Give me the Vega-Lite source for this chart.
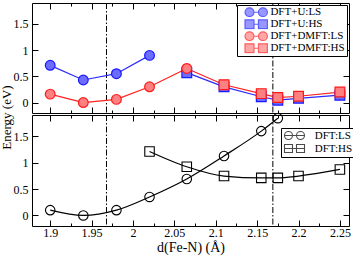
{
  "$schema": "https://vega.github.io/schema/vega-lite/v6.json",
  "padding": {"left": 0, "top": 2, "right": 0, "bottom": 0},
  "background": "white",
  "config": {
    "font": "Liberation Serif",
    "view": {"stroke": "black", "strokeWidth": 1},
    "axis": {"grid": false, "domain": false, "tickColor": "black", "labelColor": "black", "titleColor": "black", "labelFont": "Liberation Serif", "titleFont": "Liberation Serif", "labelFontSize": 12, "titleFontSize": 13, "titleFontWeight": "normal", "labelFlush": false, "labelOverlap": false, "tickWidth": 1},
    "legend": {"labelFont": "Liberation Serif", "labelFontSize": 11, "labelColor": "black"}
  },
  "datasets": {
    "top": [
      {"s": "DFT+U:LS", "d": 1.9, "E": 0.71},
      {"s": "DFT+U:LS", "d": 1.94, "E": 0.43},
      {"s": "DFT+U:LS", "d": 1.98, "E": 0.55},
      {"s": "DFT+U:LS", "d": 2.02, "E": 0.9},
      {"s": "DFT+U:HS", "d": 2.065, "E": 0.57},
      {"s": "DFT+U:HS", "d": 2.11, "E": 0.3},
      {"s": "DFT+U:HS", "d": 2.155, "E": 0.11},
      {"s": "DFT+U:HS", "d": 2.175, "E": 0.045},
      {"s": "DFT+U:HS", "d": 2.2, "E": 0.08},
      {"s": "DFT+U:HS", "d": 2.25, "E": 0.14},
      {"s": "DFT+DMFT:LS", "d": 1.9, "E": 0.16},
      {"s": "DFT+DMFT:LS", "d": 1.94, "E": 0.0},
      {"s": "DFT+DMFT:LS", "d": 1.98, "E": 0.06},
      {"s": "DFT+DMFT:LS", "d": 2.02, "E": 0.3},
      {"s": "DFT+DMFT:LS", "d": 2.065, "E": 0.65},
      {"s": "DFT+DMFT:HS", "d": 2.065, "E": 0.65},
      {"s": "DFT+DMFT:HS", "d": 2.11, "E": 0.34},
      {"s": "DFT+DMFT:HS", "d": 2.155, "E": 0.17},
      {"s": "DFT+DMFT:HS", "d": 2.175, "E": 0.095},
      {"s": "DFT+DMFT:HS", "d": 2.2, "E": 0.12},
      {"s": "DFT+DMFT:HS", "d": 2.25, "E": 0.2}
    ],
    "bot": [
      {"t": "DFT:LS", "d": 1.9, "E": 0.1},
      {"t": "DFT:LS", "d": 1.94, "E": 0.0},
      {"t": "DFT:LS", "d": 1.98, "E": 0.1},
      {"t": "DFT:LS", "d": 2.02, "E": 0.35},
      {"t": "DFT:LS", "d": 2.065, "E": 0.69},
      {"t": "DFT:LS", "d": 2.11, "E": 1.125},
      {"t": "DFT:LS", "d": 2.155, "E": 1.595},
      {"t": "DFT:LS", "d": 2.175, "E": 1.84},
      {"t": "DFT:HS", "d": 2.02, "E": 1.21},
      {"t": "DFT:HS", "d": 2.065, "E": 0.92},
      {"t": "DFT:HS", "d": 2.11, "E": 0.745},
      {"t": "DFT:HS", "d": 2.155, "E": 0.71},
      {"t": "DFT:HS", "d": 2.175, "E": 0.71},
      {"t": "DFT:HS", "d": 2.2, "E": 0.745},
      {"t": "DFT:HS", "d": 2.25, "E": 0.87}
    ],
    "vlines": [{"v": 1.968}, {"v": 2.169}]
  },
  "bounds": "flush",
  "spacing": 2,
  "resolve": {"scale": {"x": "independent", "y": "independent", "shape": "independent", "fill": "independent", "stroke": "independent", "color": "independent"}},
  "vconcat": [
    {
      "width": 317,
      "height": 110,
      "layer": [
        {
          "data": {"name": "vlines"},
          "mark": {"type": "rule", "color": "black", "strokeWidth": 1, "strokeDash": [6, 2, 1.5, 2]},
          "encoding": {
            "x": {"field": "v", "type": "quantitative", "scale": {"domain": [1.878, 2.261], "nice": false, "zero": false}, "axis": null}
          }
        },
        {
          "data": {"name": "top"},
          "mark": {"type": "line", "strokeWidth": 1.2},
          "encoding": {
            "x": {"field": "d", "type": "quantitative", "scale": {"domain": [1.878, 2.261], "nice": false, "zero": false},
              "axis": {"orient": "bottom", "values": [1.9, 1.925, 1.95, 1.975, 2, 2.025, 2.05, 2.075, 2.1, 2.125, 2.15, 2.175, 2.2, 2.225, 2.25], "labels": false, "title": null,
                "tickSize": {"condition": {"test": "abs(datum.value*20 - round(datum.value*20)) < 0.01", "value": -6}, "value": -3}}},
            "y": {"field": "E", "type": "quantitative", "scale": {"domain": [-0.2, 1.9], "nice": false, "zero": false},
              "axis": {"orient": "left", "values": [0, 0.5, 1, 1.5], "format": "~g", "tickSize": -6, "labelPadding": 10, "title": "Energy (eV)", "titleX": -21.5, "titleY": 114, "titleAngle": -90, "titleBaseline": "alphabetic", "titleAlign": "center"}},
            "color": {"field": "s", "type": "nominal", "scale": {"domain": ["DFT+U:LS", "DFT+U:HS", "DFT+DMFT:LS", "DFT+DMFT:HS"], "range": ["#2a2aff", "#2a2aff", "#ff2020", "#ff2020"]}, "legend": null}
          }
        },
        {
          "data": {"name": "top"},
          "transform": [{"filter": "!(datum.s == 'DFT+DMFT:HS' && datum.d < 2.08)"}],
          "mark": {"type": "point", "filled": true, "size": 95, "strokeWidth": 1.2, "opacity": 1},
          "encoding": {
            "x": {"field": "d", "type": "quantitative", "scale": {"domain": [1.878, 2.261], "nice": false, "zero": false},
              "axis": {"orient": "top", "values": [1.9, 1.925, 1.95, 1.975, 2, 2.025, 2.05, 2.075, 2.1, 2.125, 2.15, 2.175, 2.2, 2.225, 2.25], "labels": false, "title": null,
                "tickSize": {"condition": {"test": "abs(datum.value*20 - round(datum.value*20)) < 0.01", "value": -6}, "value": -3}}},
            "y": {"field": "E", "type": "quantitative", "scale": {"domain": [-0.2, 1.9], "nice": false, "zero": false},
              "axis": {"orient": "right", "values": [0, 0.5, 1, 1.5], "labels": false, "tickSize": -6, "title": null}},
            "fill": {"field": "s", "type": "nominal", "scale": {"domain": ["DFT+U:LS", "DFT+U:HS", "DFT+DMFT:LS", "DFT+DMFT:HS"], "range": ["#6c6cff", "#6c6cff", "#ff8080", "#ff8080"]}, "legend": null},
            "stroke": {"field": "s", "type": "nominal", "scale": {"domain": ["DFT+U:LS", "DFT+U:HS", "DFT+DMFT:LS", "DFT+DMFT:HS"], "range": ["#1a1aff", "#1a1aff", "#ff1a1a", "#ff1a1a"]}, "legend": null},
            "shape": {"field": "s", "type": "nominal", "scale": {"domain": ["DFT+U:LS", "DFT+U:HS", "DFT+DMFT:LS", "DFT+DMFT:HS"], "range": ["circle", "square", "circle", "square"]}, "legend": null}
          }
        },
        {
          "data": {"name": "top"},
          "transform": [{"filter": "false"}],
          "mark": {"type": "point", "filled": false, "size": 80, "strokeWidth": 1.2,
            "fill": {"expr": "indexof(datum.value, 'U:') >= 0 ? '#6c6cff' : '#ff8080'"},
            "color": {"expr": "indexof(datum.value, 'U:') >= 0 ? '#1a1aff' : '#ff1a1a'"}},
          "encoding": {
            "shape": {"field": "s", "type": "nominal",
              "scale": {"domain": ["DFT+U:LS", "DFT+U:HS", "DFT+DMFT:LS", "DFT+DMFT:HS"],
                "range": ["M-2.5,0A1,1,0,1,0,-0.5,0A1,1,0,1,0,-2.5,0ZM-0.5,0L0.5,0M0.5,0A1,1,0,1,0,2.5,0A1,1,0,1,0,0.5,0Z",
                          "M-2.5,-1H-0.5V1H-2.5ZM-0.5,0H0.5M0.5,-1H2.5V1H0.5Z",
                          "M-2.5 0A1 1 0 1 0 -0.5 0A1 1 0 1 0 -2.5 0ZM-0.5 0L0.5 0M0.5 0A1 1 0 1 0 2.5 0A1 1 0 1 0 0.5 0Z",
                          "M-2.5 -1H-0.5V1H-2.5ZM-0.5 0H0.5M0.5 -1H2.5V1H0.5Z"]},
              "legend": {"title": null, "orient": "none", "legendX": 205, "legendY": 2, "strokeColor": "black", "fillColor": "white", "padding": 2, "rowPadding": 0, "clipHeight": 10.5, "symbolOffset": 11.7, "labelOffset": 8.7, "labelFontSize": 11, "symbolSize": 80, "symbolStrokeWidth": 1.2,
                "encode": {"symbols": {"update": {
                  "fill": {"signal": "indexof(datum.value, 'U:') >= 0 ? '#6c6cff' : '#ff8080'"},
                  "stroke": {"signal": "indexof(datum.value, 'U:') >= 0 ? '#1a1aff' : '#ff1a1a'"},
                  "strokeWidth": {"value": 1.2}}}}}}
          }
        }
      ],
      "resolve": {"scale": {"shape": "independent"}, "axis": {"x": "independent", "y": "independent"}}
    },
    {
      "width": 317,
      "height": 111,
      "layer": [
        {
          "data": {"name": "vlines"},
          "mark": {"type": "rule", "color": "black", "strokeWidth": 1, "strokeDash": [6, 2, 1.5, 2]},
          "encoding": {
            "x": {"field": "v", "type": "quantitative", "scale": {"domain": [1.878, 2.261], "nice": false, "zero": false}, "axis": null}
          }
        },
        {
          "data": {"name": "bot"},
          "mark": {"type": "line", "interpolate": "monotone", "color": "black", "strokeWidth": 1.2},
          "encoding": {
            "x": {"field": "d", "type": "quantitative", "scale": {"domain": [1.878, 2.261], "nice": false, "zero": false},
              "axis": {"orient": "bottom", "values": [1.9, 1.925, 1.95, 1.975, 2, 2.025, 2.05, 2.075, 2.1, 2.125, 2.15, 2.175, 2.2, 2.225, 2.25],
                "labelExpr": "abs(datum.value*20 - round(datum.value*20)) < 0.01 ? format(datum.value, '~g') : ''",
                "labelPadding": 7, "title": "d(Fe-N) (Å)", "titleY": 25.5, "titleBaseline": "alphabetic", "titleFontSize": 14,
                "tickSize": {"condition": {"test": "abs(datum.value*20 - round(datum.value*20)) < 0.01", "value": -6}, "value": -3}}},
            "y": {"field": "E", "type": "quantitative", "scale": {"domain": [-0.2, 1.9], "nice": false, "zero": false},
              "axis": {"orient": "left", "values": [0, 0.5, 1, 1.5], "format": "~g", "tickSize": -6, "labelPadding": 10, "title": null}},
            "detail": {"field": "t", "type": "nominal"}
          }
        },
        {
          "data": {"name": "bot"},
          "mark": {"type": "point", "filled": false, "color": "black", "size": 90, "strokeWidth": 1.1, "opacity": 1},
          "encoding": {
            "x": {"field": "d", "type": "quantitative", "scale": {"domain": [1.878, 2.261], "nice": false, "zero": false},
              "axis": {"orient": "top", "values": [1.9, 1.925, 1.95, 1.975, 2, 2.025, 2.05, 2.075, 2.1, 2.125, 2.15, 2.175, 2.2, 2.225, 2.25], "labels": false, "title": null,
                "tickSize": {"condition": {"test": "abs(datum.value*20 - round(datum.value*20)) < 0.01", "value": -6}, "value": -3}}},
            "y": {"field": "E", "type": "quantitative", "scale": {"domain": [-0.2, 1.9], "nice": false, "zero": false},
              "axis": {"orient": "right", "values": [0, 0.5, 1, 1.5], "labels": false, "tickSize": -6, "title": null}},
            "shape": {"field": "t", "type": "nominal", "scale": {"domain": ["DFT:LS", "DFT:HS"], "range": ["circle", "square"]}, "legend": null}
          }
        },
        {
          "data": {"name": "bot"},
          "transform": [{"filter": "false"}],
          "mark": {"type": "point", "filled": false, "color": "black", "size": 64, "strokeWidth": 1.1},
          "encoding": {
            "shape": {"field": "t", "type": "nominal",
              "scale": {"domain": ["DFT:LS", "DFT:HS"],
                "range": ["M-2.5,0A1,1,0,1,0,-0.5,0A1,1,0,1,0,-2.5,0ZM0.5,0A1,1,0,1,0,2.5,0A1,1,0,1,0,0.5,0ZM-2.5,0L2.5,0",
                          "M-2.5,-1H-0.5V1H-2.5ZM0.5,-1H2.5V1H0.5ZM-2.5,0H2.5"]},
              "legend": {"title": null, "orient": "none", "legendX": 249, "legendY": 13, "strokeColor": "black", "fillColor": "white", "padding": 2, "rowPadding": 0, "symbolOffset": 6, "labelOffset": 14.7, "labelFontSize": 11, "symbolSize": 64, "symbolStrokeWidth": 1.1, "symbolStrokeColor": "black", "symbolFillColor": "transparent"}}
          }
        }
      ],
      "resolve": {"scale": {"shape": "independent"}, "axis": {"x": "independent", "y": "independent"}}
    }
  ]
}
